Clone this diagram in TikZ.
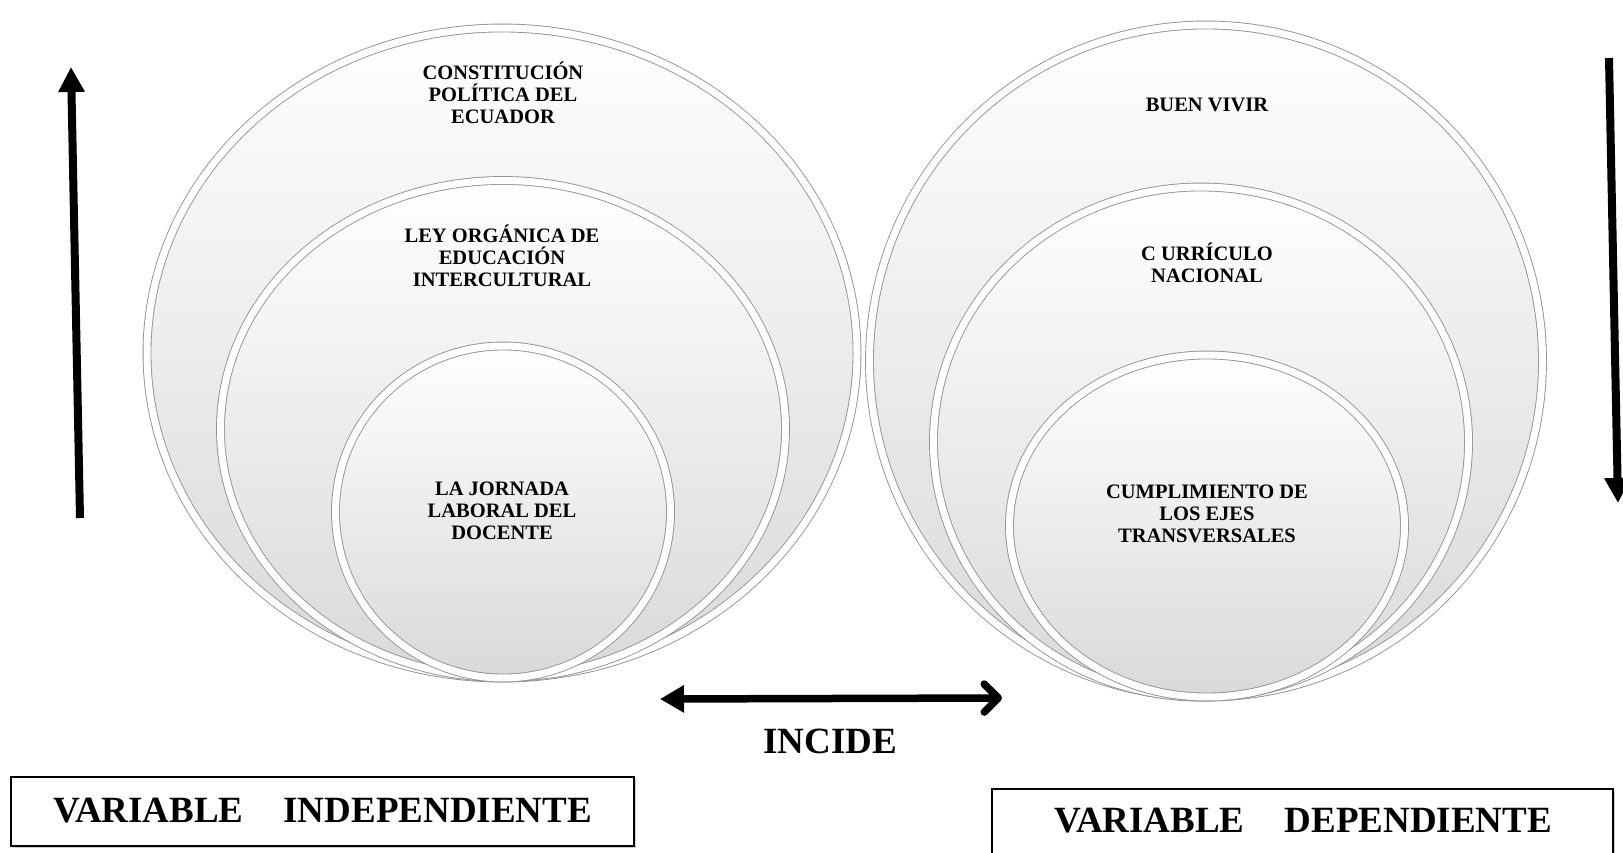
\documentclass[tikz,border=0pt]{standalone}
\usepackage{fontspec}
\setmainfont{Liberation Serif}
\usetikzlibrary{shapes.geometric,shadows,arrows.meta}
\begin{document}
\begin{tikzpicture}[x=1pt,y=-1pt,
  ring/.style={ellipse, inner sep=0pt, outer sep=0pt, draw=gray!85, line width=0.9pt,
    double=white, double distance=7pt, top color=white, bottom color=gray!30,
    drop shadow={shadow xshift=0pt, shadow yshift=-4pt, opacity=0.5}},
  ctext/.style={align=center, font=\fontsize{20.5}{22}\selectfont\bfseries, inner sep=0pt},
  vtext/.style={font=\fontsize{37}{40}\selectfont\bfseries, inner sep=0pt},
  vbox/.style={draw=black, line width=1.6pt, fill=white, inner sep=0pt,
    drop shadow={shadow xshift=1.5pt, shadow yshift=-1.5pt, opacity=0.4}},
  thick arrow/.style={line width=8pt}
]
\useasboundingbox (0,0) rectangle (1623,853);
\clip (0,0) rectangle (1623,853);

% left nested circles
\node[ring, minimum width=710pt, minimum height=650pt] (lo) at (502,353) {};
\node[ring, minimum width=565pt, minimum height=497pt] (lm) at (503,429) {};
\node[ring, minimum width=335pt, minimum height=332pt] (li) at (503,512) {};

% right nested circles
\node[ring, minimum width=673pt, minimum height=672pt] (ro) at (1206,361) {};
\node[ring, minimum width=535pt, minimum height=510pt] (rm) at (1201,442) {};
\node[ring, minimum width=395pt, minimum height=342pt] (ri) at (1207,526) {};

% circle texts
\node[ctext] (t1) at (503,93) {CONSTITUCIÓN\\POLÍTICA DEL\\ECUADOR};
\node[ctext] (t2) at (502,256) {LEY ORGÁNICA DE\\EDUCACIÓN\\INTERCULTURAL};
\node[ctext] (t3) at (502,511) {LA JORNADA\\LABORAL DEL\\DOCENTE};
\node[ctext] (t4) at (1207,105) {BUEN VIVIR};
\node[ctext] (t5) at (1207,263) {C URRÍCULO\\NACIONAL};
\node[ctext] (t6) at (1207,514) {CUMPLIMIENTO DE\\LOS EJES\\TRANSVERSALES};

% vertical arrows
\coordinate (la1) at (80,518);
\coordinate (la2) at (71,67);
\draw[thick arrow, -{Triangle[length=25pt,width=25pt]}] (la1) -- (la2);
\coordinate (ra1) at (1609,58);
\coordinate (ra2) at (1618,503);
\draw[thick arrow, -{Triangle[length=25pt,width=25pt]}] (ra1) -- (ra2);

% INCIDE double arrow
\coordinate (h1) at (660,699);
\coordinate (h2) at (1002,698);
\draw[line width=7.5pt, {Triangle[length=24pt,width=26pt]}-{Straight Barb[length=14pt,width=28pt,round]}] (h1) -- (h2);
\node[vtext] (incide) at (830,741) {INCIDE};

% variable boxes
\node[vbox, minimum width=623pt, minimum height=69pt] (vi) at (322.5,811.5) {};
\node[vtext] (vit) at (322.5,811) {VARIABLE\hspace{40pt}INDEPENDIENTE};
\node[vbox, minimum width=621pt, minimum height=100pt] (vd) at (1302.5,839) {};
\node[vtext] (vdt) at (1303,821) {VARIABLE\hspace{40pt}DEPENDIENTE};
\end{tikzpicture}
\end{document}
